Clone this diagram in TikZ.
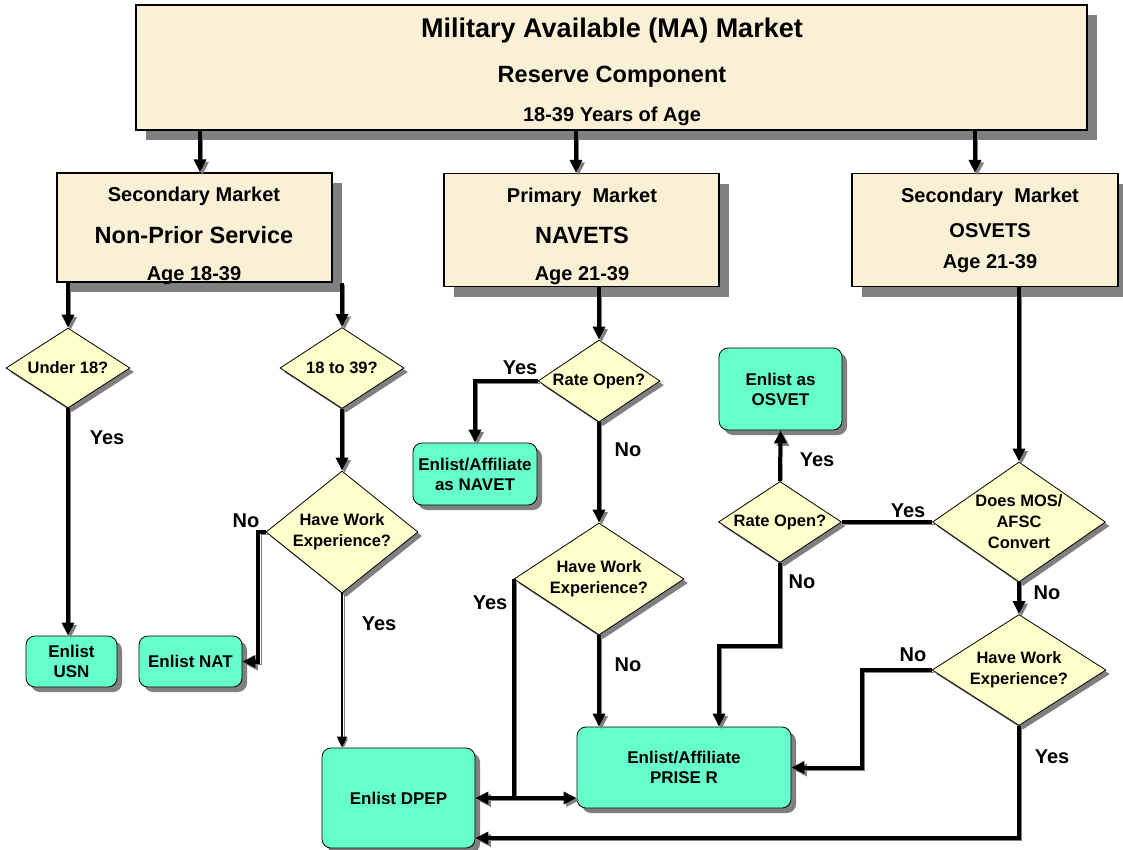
\documentclass[tikz,border=0pt]{standalone}
\usepackage{fontspec}
\setmainfont{Liberation Sans}
\usepackage{tikz}
\usetikzlibrary{arrows.meta,positioning,calc,shapes.geometric,shadows}
\definecolor{parch}{RGB}{249,240,214}
\definecolor{pale}{RGB}{255,255,204}
\definecolor{mint}{RGB}{102,255,204}
\definecolor{shade}{RGB}{128,128,128}
\tikzset{
  mkt/.style={draw=black, line width=1.2pt, fill=parch, inner sep=0pt,
    drop shadow={shadow xshift=10pt, shadow yshift=-10pt, fill=shade, opacity=1}},
  choice/.style={diamond, aspect=1.4, draw=black, line width=0.8pt, fill=pale,
    inner sep=0pt, align=center, font=\fontsize{16.5}{21}\selectfont\bfseries,
    drop shadow={shadow xshift=4pt, shadow yshift=-4pt, fill=shade, opacity=1}},
  act/.style={draw=black, line width=0.8pt, fill=mint, rounded corners=9pt,
    inner sep=0pt, align=center, font=\fontsize{17}{20}\selectfont\bfseries,
    drop shadow={shadow xshift=5pt, shadow yshift=-5pt, fill=shade, opacity=1}},
  wire/.style={line width=4pt,
    preaction={draw=shade, transform canvas={shift={(2.5pt,-2.5pt)}}}},
  arr/.style={wire, -{Triangle[length=13pt,width=12pt]}},
  arrthin/.style={line width=2pt, -{Triangle[length=11pt,width=10pt]},
    preaction={draw=shade, transform canvas={shift={(1.8pt,-1.8pt)}}}},
  ttl/.style={anchor=base, font=\fontsize{27}{27}\selectfont\bfseries},
  big/.style={anchor=base, font=\fontsize{23.5}{24}\selectfont\bfseries},
  hd/.style={anchor=base, font=\fontsize{20}{20}\selectfont\bfseries},
  lbl/.style={font=\fontsize{20}{20}\selectfont\bfseries},
}
\begin{document}
\begin{tikzpicture}[x=1pt,y=-1pt]
  \useasboundingbox (0,0) rectangle (1123,849);

  \node[mkt, minimum width=951, minimum height=125] (ma) at (611.5,67.5) {};
  \node[mkt, minimum width=275, minimum height=109] (nps) at (194.5,227.5) {};
  \node[mkt, minimum width=275, minimum height=113] (nav) at (581.5,230) {};
  \node[mkt, minimum width=266, minimum height=113] (osv) at (985,230) {};

  \node[ttl] (ma1) at (612,37.5) {Military Available (MA) Market};
  \node[big] (ma2) at (612,82) {Reserve Component};
  \node[hd] (ma3) at (612,121) {18-39 Years of Age};
  \node[hd] (nps1) at (194,201) {Secondary Market};
  \node[big] (nps2) at (194,243) {Non-Prior Service};
  \node[hd] (nps3) at (194,280) {Age 18-39};
  \node[hd] (nav1) at (582,202) {Primary~ Market};
  \node[big] (nav2) at (582,243) {NAVETS};
  \node[hd] (nav3) at (582,280) {Age 21-39};
  \node[hd] (osv1) at (990,202) {Secondary~ Market};
  \node[hd] (osv2) at (990,237) {OSVETS};
  \node[hd] (osv3) at (990,268) {Age 21-39};

  \node[choice, minimum width=124, minimum height=80] (d1) at (68,368) {Under 18?};
  \node[choice, minimum width=124, minimum height=81] (d2) at (342,368) {18 to 39?};
  \node[choice, minimum width=152, minimum height=122] (d3) at (342,532) {Have Work\\Experience?};
  \node[choice, minimum width=122, minimum height=82] (d4) at (599,381) {Rate Open?};
  \node[choice, minimum width=170, minimum height=112] (d5) at (599,579) {Have Work\\Experience?};
  \node[choice, minimum width=173, minimum height=120] (d6) at (1019,522) {Does MOS/\\AFSC\\Convert};
  \node[choice, minimum width=123, minimum height=80] (d7) at (780,522) {Rate Open?};
  \node[choice, minimum width=174, minimum height=111] (d8) at (1019,670) {Have Work\\Experience?};

  \node[act, minimum width=91, minimum height=51] (usn) at (71.5,661.5) {Enlist\\USN};
  \node[act, minimum width=103, minimum height=51] (nat) at (190.5,661.5) {Enlist NAT};
  \node[act, minimum width=153, minimum height=100] (dpep) at (398.5,798) {Enlist DPEP};
  \node[act, minimum width=214, minimum height=81] (prise) at (684,767.5) {Enlist/Affiliate\\PRISE R};
  \node[act, minimum width=124, minimum height=62] (navet) at (475,474) {Enlist/Affiliate\\as NAVET};
  \node[act, minimum width=123, minimum height=82] (osvet) at (780.5,389) {Enlist as\\OSVET};

  \draw[arr] ([xshift=5.5pt]nps.north |- ma.south) -- ([xshift=5.5pt]nps.north);
  \draw[arr] ([xshift=-5.5pt]nav.north |- ma.south) -- ([xshift=-5.5pt]nav.north);
  \draw[arr] ([xshift=-10pt]osv.north |- ma.south) -- ([xshift=-10pt]osv.north);

  \draw[arr] (d1.north |- nps.south) -- (d1.north);
  \draw[arr] (d2.north |- nps.south) -- (d2.north);
  \draw[arr] (d1.south) -- (d1.south |- usn.north);
  \draw[arr] (d2.south) -- (d3.north);
  \draw[arr] (d3.west) -| ([xshift=16pt]nat.east) -- (nat.east);
  \draw[arrthin] (d3.south) -- (d3.south |- dpep.north);

  \draw[arr] (d4.north |- nav.south) -- (d4.north);
  \draw[arr] (d4.west) -| (navet.north);
  \draw[arr] (d4.south) -- (d5.north);
  \draw[arr] (d5.west) |- (dpep.east);
  \draw[arr] (d5.west |- dpep.east) -- (prise.west |- dpep.east);
  \draw[arr] (d5.south) -- (d5.south |- prise.north);

  \draw[arr] (d6.north |- osv.south) -- (d6.north);
  \draw[wire] (d6.west) -- (d7.east);
  \draw[arr] (d7.north) -- (osvet.south);
  \draw[arr] (d7.south) -- ++(0,83) -| ([xshift=35pt]prise.north);
  \draw[arr] (d6.south) -- (d8.north);
  \draw[arr] (d8.west) -- ++(-70,0) |- (prise.east);
  \draw[arr] (d8.south) |- ([yshift=-40pt]dpep.east);

  \node[lbl] (y1) at (107,438) {Yes};
  \node[lbl] (n1) at (246,521) {No};
  \node[lbl] (y2) at (379,624) {Yes};
  \node[lbl] (y3) at (520,368) {Yes};
  \node[lbl] (n2) at (628,450) {No};
  \node[lbl] (y4) at (490,603) {Yes};
  \node[lbl] (n3) at (628,665) {No};
  \node[lbl] (y5) at (817,460) {Yes};
  \node[lbl] (y6) at (908,511) {Yes};
  \node[lbl] (n4) at (802,582) {No};
  \node[lbl] (n5) at (1047,593) {No};
  \node[lbl] (n6) at (913,655) {No};
  \node[lbl] (y7) at (1052,757) {Yes};
\end{tikzpicture}
\end{document}
